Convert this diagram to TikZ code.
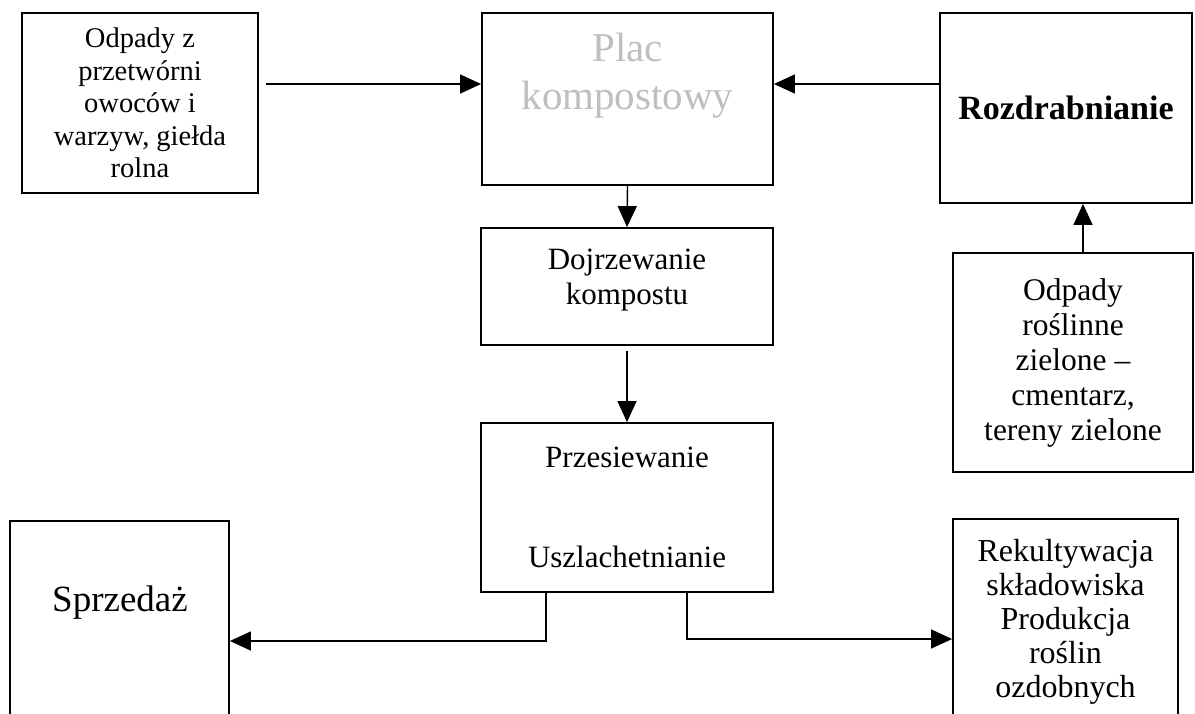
\documentclass[tikz,border=0pt]{standalone}
\usepackage{fontspec}
\setmainfont{Liberation Serif}
\usetikzlibrary{arrows.meta}

\tikzset{
    box/.style={draw, line width=1.8pt, inner sep=0pt},
    txt/.style={align=center, inner sep=0pt, font=\fontsize{31}{35}\selectfont},
    arr/.style={line width=1.4pt, -{Triangle[length=21pt,width=19pt]}},
}

\begin{document}
\begin{tikzpicture}[x=1pt, y=-1pt]
    \path[use as bounding box, clip] (0,0) rectangle (1195,713);
    \fill[white] (0,0) rectangle (1195,713);
    \node[box, txt, minimum width=236pt, minimum height=180pt, font=\fontsize{28.5}{32.5}\selectfont] (src) at (140,103) {Odpady z\\przetwórni\\owoców i\\warzyw, giełda\\rolna};
    \node[box, minimum width=291pt, minimum height=172pt] (plac) at (627.5,99) {};
    \node[txt, anchor=north, font=\fontsize{41}{48}\selectfont, text=gray!50] (plactxt) at (627.5,33) {Plac\\kompostowy};
    \node[box, txt, minimum width=252pt, minimum height=190pt, font=\bfseries\fontsize{34}{38}\selectfont] (rozdr) at (1066,108) {Rozdrabnianie};
    \node[box, minimum width=292pt, minimum height=117pt] (dojrz) at (627,286.5) {};
    \node[txt, anchor=north] (dojrztxt) at (627,249) {Dojrzewanie\\kompostu};
    \node[box, txt, minimum width=240pt, minimum height=219pt, font=\fontsize{31.5}{35}\selectfont] (roslin) at (1073,362.5) {Odpady\\roślinne\\zielone –\\cmentarz,\\tereny zielone};
    \node[box, txt, minimum width=292pt, minimum height=169pt] (przes) at (627,507.5) {Przesiewanie\\[65pt]Uszlachetnianie};
    \node[box, minimum width=219pt, minimum height=240pt] (sprz) at (119.5,641) {};
    \node[txt, anchor=base, font=\fontsize{37}{40}\selectfont] (sprztxt) at (120,611) {Sprzedaż};
    \node[box, minimum width=225pt, minimum height=240pt] (rekult) at (1065.5,639) {};
    \node[txt, anchor=north, font=\fontsize{32}{34}\selectfont] (rekulttxt) at (1065.5,539) {Rekultywacja\\składowiska\\Produkcja\\roślin\\ozdobnych};

    \draw[arr, shorten <=7pt] (src.east |- 0,84) -- (plac.west |- 0,84);
    \draw[arr] (rozdr.west |- 0,84) -- (plac.east |- 0,84);
    \draw[arr] (plac.south) -- (dojrz.north);
    \draw[arr, shorten <=5pt] (dojrz.south) -- (przes.north);
    \coordinate (rosup) at ([xshift=10pt]roslin.north);
    \draw[arr] (rosup) -- (rosup |- rozdr.south);
    \draw[arr] ([xshift=-81pt]przes.south) |- (sprz.east);
    \draw[arr] ([xshift=60pt]przes.south) |- (rekult.west);
\end{tikzpicture}
\end{document}
